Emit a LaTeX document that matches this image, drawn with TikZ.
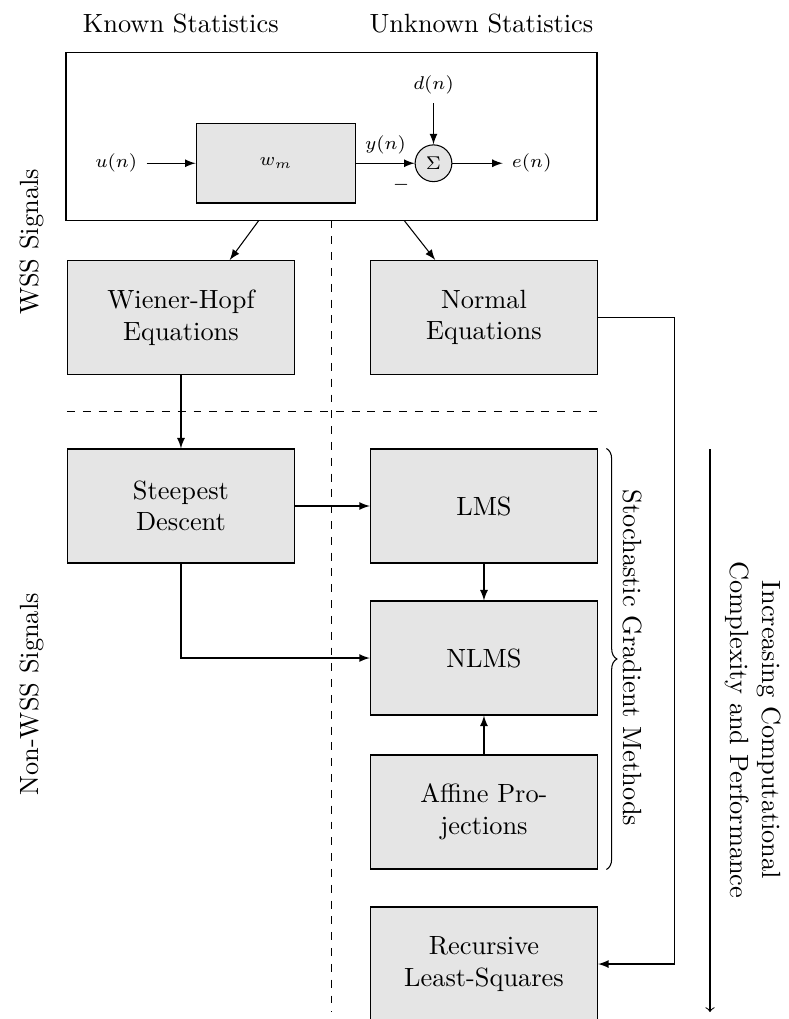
\documentclass[tikz,border=0pt]{standalone}
\usepackage{tikz}
\usetikzlibrary{calc,decorations.pathreplacing}
\tikzset{
	algbox/.style={draw, fill=black!10, minimum width=3.03cm, minimum height=1.52cm, align=center},
	sig/.style={font=\scriptsize},
	flow/.style={-latex},
}

\begin{document}
\begin{tikzpicture}
			%%%%% START %%%%%
			\useasboundingbox (0, 0) rectangle (10.52, 13.587);
			
			\node (known) at (2.41, 13.28) {Known Statistics};
			\node (unknown) at (6.42, 13.28) {Unknown Statistics};
			\node[rotate=90] (wss) at (0.43, 10.36) {WSS Signals};
			\node[rotate=90] (nonwss) at (0.43, 4.33) {Non-WSS Signals};
			
			% adaptive filter
			\node[draw, minimum width=7.08cm, minimum height=2.24cm] (frame) at (4.42, 11.773) {};
			\node[draw, fill=black!10, minimum width=2.13cm, minimum height=1.06cm, sig] (filt) at (3.68, 11.41) {$w_m$};
			\node[draw, circle, fill=black!10, minimum size=0.49cm, inner sep=0pt, sig] (sum) at (5.78, 11.41) {$\Sigma$};
			\node[sig] (u) at (1.55, 11.41) {$u(n)$};
			\node[sig] (d) at (5.78, 12.46) {$d(n)$};
			\node[sig] (e) at (7.09, 11.41) {$e(n)$};
			\draw[flow] (u) -- (filt);
			\draw[flow] (filt) -- node[above, sig] {$y(n)$} node[pos=0.77, below, yshift=-2pt, sig] {$-$} (sum);
			\draw[flow] (d) -- (sum);
			\draw[flow] (sum) -- (e);
			
			% algorithms
			\node[algbox] (wh) at (2.413, 9.353) {Wiener-Hopf\\Equations};
			\node[algbox] (ne) at (6.453, 9.353) {Normal\\Equations};
			\node[algbox] (sd) at (2.413, 6.84) {Steepest\\Descent};
			\node[algbox] (lms) at (6.453, 6.84) {LMS};
			\node[algbox] (nlms) at (6.453, 4.813) {NLMS};
			\node[algbox] (aff) at (6.453, 2.76) {Affine Pro-\\jections};
			\node[algbox] (rls) at (6.453, 0.733) {Recursive\\Least-Squares};
			
			\draw[dashed] (frame.south) -- (4.42, 0.09);
			\draw[dashed] (0.893, 8.1) -- (7.96, 8.1);
			
			\draw[flow] ($(frame.south)+(-0.97,0)$) -- ($(wh.north)+(0.65,0)$);
			\draw[flow] ($(frame.south)+(0.97,0)$) -- ($(ne.north)+(-0.65,0)$);
			\draw[flow] (wh) -- (sd);
			\draw[flow] (sd) -- (lms);
			\draw[flow] (lms) -- (nlms);
			\draw[flow] (aff) -- (nlms);
			\draw[flow] (sd.south) |- (nlms.west);
			\draw[flow] (ne.east) -- ++(1.013, 0) |- (rls.east);
			
			\draw[decorate, decoration={brace, amplitude=4pt}] ($(lms.north east)+(0.11,0)$) -- ($(aff.south east)+(0.11,0)$);
			\node[rotate=-90] (sgm) at (8.43, 4.813) {Stochastic Gradient Methods};
			
			\draw[->] (9.467, 7.6) -- (9.467, 0.093);
			\node[rotate=-90, align=center] (cost) at (10.04, 3.853) {Increasing Computational\\Complexity and Performance};
			
			%%%%% END %%%%%
\end{tikzpicture}
\end{document}
